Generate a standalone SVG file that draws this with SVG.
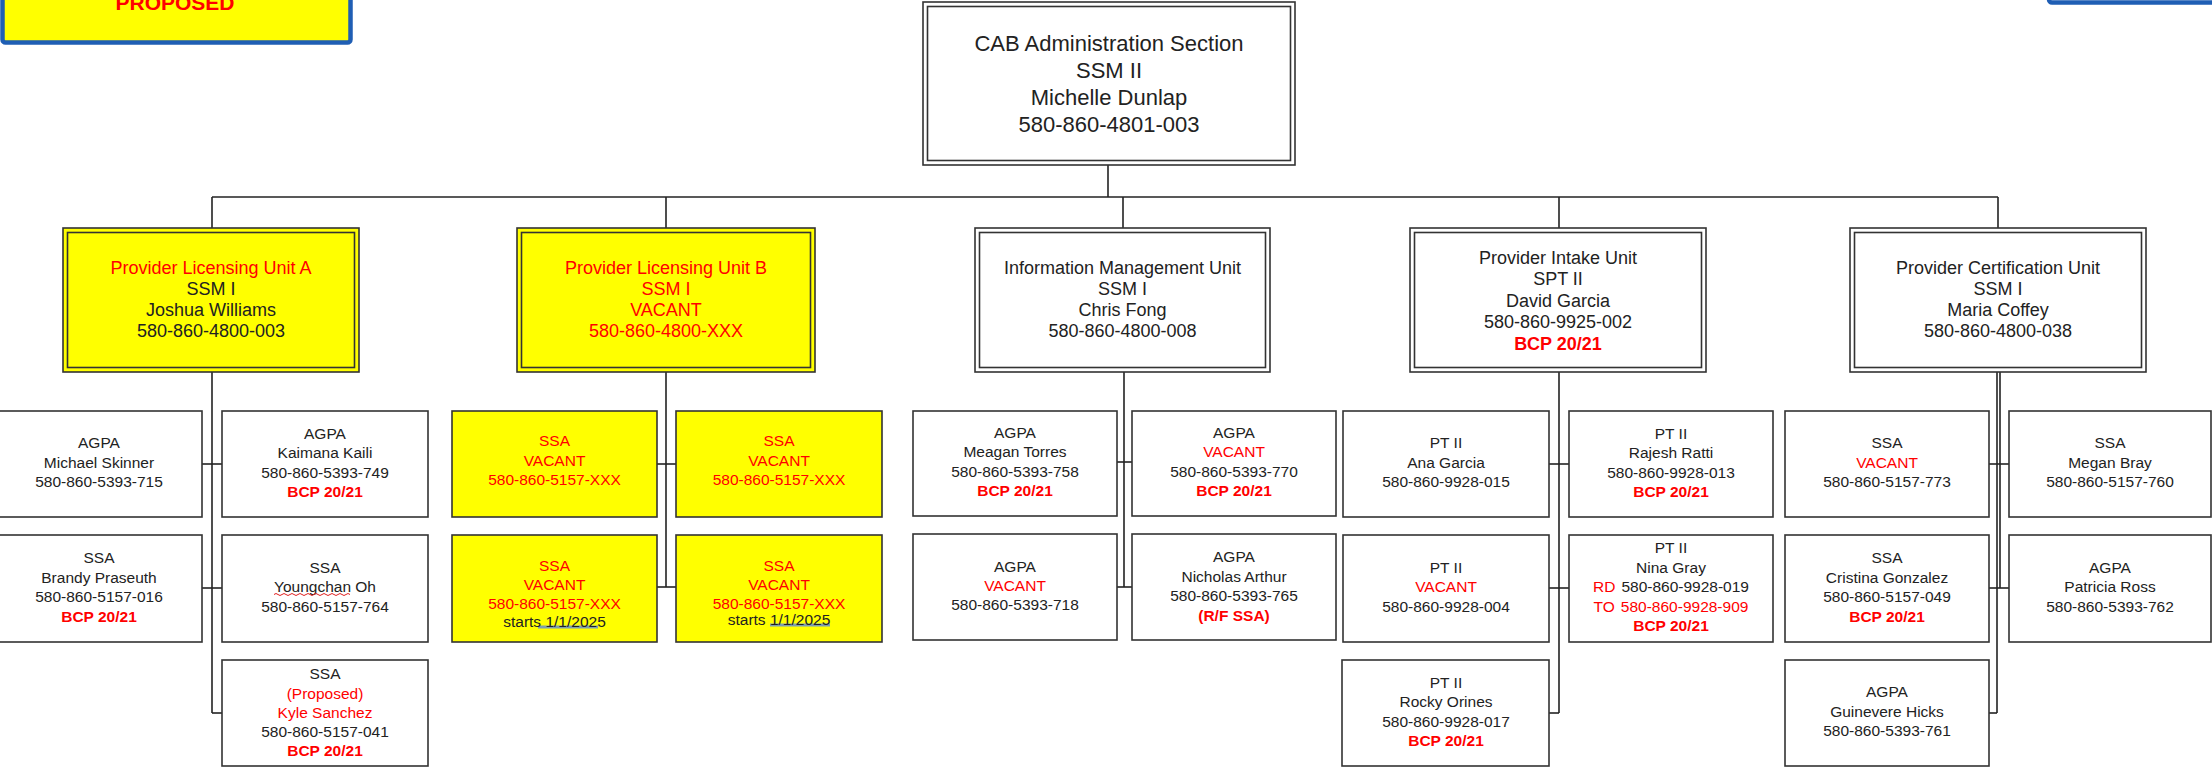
<svg xmlns="http://www.w3.org/2000/svg" width="2212" height="767" viewBox="0 0 2212 767">
<style>
.bg{fill:#ffffff}
.w{fill:#ffffff;stroke:#333;stroke-width:1.6}
.y{fill:#ffff00;stroke:#333;stroke-width:1.6}
.in{fill:none;stroke:#333;stroke-width:1.6}
.t{font-family:"Liberation Sans",Arial,sans-serif;font-size:15.5px;fill:#222;text-anchor:middle}
.u{font-size:18px}
.top{font-size:22px}
.r{fill:#ff0000}
.bd{font-weight:bold}
.c line{stroke:#222;stroke-width:1.6}
.leg{fill:#ffff00;stroke:#1f5eb4;stroke-width:4.5}
</style>
<rect class="bg" x="0" y="0" width="2212" height="767"/>

<g id="legend-left">
<rect class="leg" x="2.5" y="-40" width="348" height="82.5" rx="3"/>
<text class="t r bd" x="175" y="10" style="font-size:21px">PROPOSED</text>
</g>
<g id="legend-right">
<rect x="2049" y="-60" width="210" height="62.5" rx="3" fill="#ffffff" stroke="#1f5eb4" stroke-width="4.5"/>
</g>

<g class="c" id="connectors">
<line x1="1108" y1="165" x2="1108" y2="197"/>
<line x1="212" y1="197" x2="1998" y2="197"/>
<line x1="212" y1="197" x2="212" y2="228"/>
<line x1="666" y1="197" x2="666" y2="228"/>
<line x1="1123" y1="197" x2="1123" y2="228"/>
<line x1="1559" y1="197" x2="1559" y2="228"/>
<line x1="1998" y1="197" x2="1998" y2="228"/>
<!-- Unit A -->
<line x1="212" y1="372" x2="212" y2="713"/>
<line x1="202" y1="464" x2="222" y2="464"/>
<line x1="202" y1="588" x2="222" y2="588"/>
<line x1="212" y1="713" x2="222" y2="713"/>
<!-- Unit B -->
<line x1="666" y1="372" x2="666" y2="587"/>
<line x1="657" y1="464" x2="676" y2="464"/>
<line x1="657" y1="587" x2="676" y2="587"/>
<!-- Info -->
<line x1="1124" y1="372" x2="1124" y2="587"/>
<line x1="1117" y1="462" x2="1132" y2="462"/>
<line x1="1117" y1="587" x2="1132" y2="587"/>
<!-- Intake -->
<line x1="1559" y1="372" x2="1559" y2="713"/>
<line x1="1549" y1="464" x2="1569" y2="464"/>
<line x1="1549" y1="588" x2="1569" y2="588"/>
<line x1="1549" y1="713" x2="1559" y2="713"/>
<!-- Cert -->
<line x1="1997" y1="372" x2="1997" y2="713"/>
<line x1="2000" y1="372" x2="2000" y2="588"/>
<line x1="1989" y1="464" x2="2009" y2="464"/>
<line x1="1989" y1="588" x2="2009" y2="588"/>
<line x1="1989" y1="713" x2="1997" y2="713"/>
</g>

<g id="cab-admin">
<rect class="w" x="923" y="2" width="372" height="163"/>
<rect class="in" x="927.5" y="6.5" width="363" height="154"/>
<text class="t top" x="1109" y="51">CAB Administration Section</text>
<text class="t top" x="1109" y="78">SSM II</text>
<text class="t top" x="1109" y="105">Michelle Dunlap</text>
<text class="t top" x="1109" y="132">580-860-4801-003</text>
</g>

<g id="unit-a">
<rect class="y" x="63" y="228" width="296" height="144"/>
<rect class="in" x="67.5" y="232.5" width="287" height="135"/>
<text class="t u r" x="211" y="273.5">Provider Licensing Unit A</text>
<text class="t u" x="211" y="294.5">SSM I</text>
<text class="t u" x="211" y="315.5">Joshua Williams</text>
<text class="t u" x="211" y="336.5">580-860-4800-003</text>
</g>

<g id="unit-b">
<rect class="y" x="517" y="228" width="298" height="144"/>
<rect class="in" x="521.5" y="232.5" width="289" height="135"/>
<text class="t u r" x="666" y="273.5">Provider Licensing Unit B</text>
<text class="t u r" x="666" y="294.5">SSM I</text>
<text class="t u r" x="666" y="315.5">VACANT</text>
<text class="t u r" x="666" y="336.5">580-860-4800-XXX</text>
</g>

<g id="unit-info">
<rect class="w" x="975" y="228" width="295" height="144"/>
<rect class="in" x="979.5" y="232.5" width="286" height="135"/>
<text class="t u" x="1122.5" y="273.5">Information Management Unit</text>
<text class="t u" x="1122.5" y="294.5">SSM I</text>
<text class="t u" x="1122.5" y="315.5">Chris Fong</text>
<text class="t u" x="1122.5" y="336.5">580-860-4800-008</text>
</g>

<g id="unit-intake">
<rect class="w" x="1410" y="228" width="296" height="144"/>
<rect class="in" x="1414.5" y="232.5" width="287" height="135"/>
<text class="t u" x="1558" y="263.5">Provider Intake Unit</text>
<text class="t u" x="1558" y="285">SPT II</text>
<text class="t u" x="1558" y="306.5">David Garcia</text>
<text class="t u" x="1558" y="328">580-860-9925-002</text>
<text class="t u r bd" x="1558" y="349.5">BCP 20/21</text>
</g>

<g id="unit-cert">
<rect class="w" x="1850" y="228" width="296" height="144"/>
<rect class="in" x="1854.5" y="232.5" width="287" height="135"/>
<text class="t u" x="1998" y="273.5">Provider Certification Unit</text>
<text class="t u" x="1998" y="294.5">SSM I</text>
<text class="t u" x="1998" y="315.5">Maria Coffey</text>
<text class="t u" x="1998" y="336.5">580-860-4800-038</text>
</g>

<!-- Unit A children -->
<g id="a-skinner">
<rect class="w" x="-4" y="411" width="206" height="106"/>
<text class="t" x="99" y="448">AGPA</text>
<text class="t" x="99" y="467.5">Michael Skinner</text>
<text class="t" x="99" y="487">580-860-5393-715</text>
</g>
<g id="a-kaili">
<rect class="w" x="222" y="411" width="206" height="106"/>
<text class="t" x="325" y="438.5">AGPA</text>
<text class="t" x="325" y="458">Kaimana Kaili</text>
<text class="t" x="325" y="477.5">580-860-5393-749</text>
<text class="t r bd" x="325" y="497">BCP 20/21</text>
</g>
<g id="a-praseuth">
<rect class="w" x="-4" y="535" width="206" height="107"/>
<text class="t" x="99" y="563">SSA</text>
<text class="t" x="99" y="582.5">Brandy Praseuth</text>
<text class="t" x="99" y="602">580-860-5157-016</text>
<text class="t r bd" x="99" y="621.5">BCP 20/21</text>
</g>
<g id="a-oh">
<rect class="w" x="222" y="535" width="206" height="107"/>
<text class="t" x="325" y="572.5">SSA</text>
<text class="t" x="325" y="592">Youngchan Oh</text>
<path d="M274,594.5 q2,-2 4,0 t4,0 t4,0 t4,0 t4,0 t4,0 t4,0 t4,0 t4,0 t4,0 t4,0 t4,0 t4,0 t4,0 t4,0 t4,0 t4,0 t4,0 t4,0" fill="none" stroke="#e02020" stroke-width="1"/>
<text class="t" x="325" y="611.5">580-860-5157-764</text>
</g>
<g id="a-sanchez">
<rect class="w" x="222" y="660" width="206" height="106"/>
<text class="t" x="325" y="679">SSA</text>
<text class="t r" x="325" y="698.5">(Proposed)</text>
<text class="t r" x="325" y="718">Kyle Sanchez</text>
<text class="t" x="325" y="737">580-860-5157-041</text>
<text class="t r bd" x="325" y="755.5">BCP 20/21</text>
</g>

<!-- Unit B children -->
<g id="b-ssa1">
<rect class="y" x="452" y="411" width="205" height="106"/>
<text class="t r" x="554.5" y="446">SSA</text>
<text class="t r" x="554.5" y="466">VACANT</text>
<text class="t r" x="554.5" y="485">580-860-5157-XXX</text>
</g>
<g id="b-ssa2">
<rect class="y" x="676" y="411" width="206" height="106"/>
<text class="t r" x="779" y="446">SSA</text>
<text class="t r" x="779" y="466">VACANT</text>
<text class="t r" x="779" y="485">580-860-5157-XXX</text>
</g>
<g id="b-ssa3">
<rect class="y" x="452" y="535" width="205" height="107"/>
<line x1="538" y1="627" x2="598" y2="627" stroke="#7f9fb0" stroke-width="3"/>
<text class="t r" x="554.5" y="570.5">SSA</text>
<text class="t r" x="554.5" y="589.5">VACANT</text>
<text class="t r" x="554.5" y="608.5">580-860-5157-XXX</text>
<text class="t" x="554.5" y="627">starts 1/1/2025</text>
</g>
<g id="b-ssa4">
<rect class="y" x="676" y="535" width="206" height="107"/>
<line x1="770" y1="625" x2="830" y2="625" stroke="#7f9fb0" stroke-width="3"/>
<text class="t r" x="779" y="570.5">SSA</text>
<text class="t r" x="779" y="589.5">VACANT</text>
<text class="t r" x="779" y="608.5">580-860-5157-XXX</text>
<text class="t" x="779" y="625">starts 1/1/2025</text>
</g>

<!-- Info children -->
<g id="i-torres">
<rect class="w" x="913" y="411" width="204" height="105"/>
<text class="t" x="1015" y="437.5">AGPA</text>
<text class="t" x="1015" y="457">Meagan Torres</text>
<text class="t" x="1015" y="476.5">580-860-5393-758</text>
<text class="t r bd" x="1015" y="496">BCP 20/21</text>
</g>
<g id="i-vacant1">
<rect class="w" x="1132" y="411" width="204" height="105"/>
<text class="t" x="1234" y="437.5">AGPA</text>
<text class="t r" x="1234" y="457">VACANT</text>
<text class="t" x="1234" y="476.5">580-860-5393-770</text>
<text class="t r bd" x="1234" y="496">BCP 20/21</text>
</g>
<g id="i-vacant2">
<rect class="w" x="913" y="534" width="204" height="106"/>
<text class="t" x="1015" y="572">AGPA</text>
<text class="t r" x="1015" y="591">VACANT</text>
<text class="t" x="1015" y="610">580-860-5393-718</text>
</g>
<g id="i-arthur">
<rect class="w" x="1132" y="534" width="204" height="106"/>
<text class="t" x="1234" y="562">AGPA</text>
<text class="t" x="1234" y="582">Nicholas Arthur</text>
<text class="t" x="1234" y="601">580-860-5393-765</text>
<text class="t r bd" x="1234" y="620.5">(R/F SSA)</text>
</g>

<!-- Intake children -->
<g id="p-garcia">
<rect class="w" x="1343" y="411" width="206" height="106"/>
<text class="t" x="1446" y="448">PT II</text>
<text class="t" x="1446" y="467.5">Ana Garcia</text>
<text class="t" x="1446" y="487">580-860-9928-015</text>
</g>
<g id="p-ratti">
<rect class="w" x="1569" y="411" width="204" height="106"/>
<text class="t" x="1671" y="438.5">PT II</text>
<text class="t" x="1671" y="458">Rajesh Ratti</text>
<text class="t" x="1671" y="477.5">580-860-9928-013</text>
<text class="t r bd" x="1671" y="497">BCP 20/21</text>
</g>
<g id="p-vacant">
<rect class="w" x="1343" y="535" width="206" height="107"/>
<text class="t" x="1446" y="572.5">PT II</text>
<text class="t r" x="1446" y="592">VACANT</text>
<text class="t" x="1446" y="611.5">580-860-9928-004</text>
</g>
<g id="p-gray">
<rect class="w" x="1569" y="535" width="204" height="107"/>
<text class="t" x="1671" y="553">PT II</text>
<text class="t" x="1671" y="572.5">Nina Gray</text>
<text class="t" x="1671" y="592"><tspan class="r">RD</tspan><tspan dx="6">580-860-9928-019</tspan></text>
<text class="t r" x="1671" y="611.5">TO<tspan dx="6">580-860-9928-909</tspan></text>
<text class="t r bd" x="1671" y="631">BCP 20/21</text>
</g>
<g id="p-orines">
<rect class="w" x="1342" y="660" width="207" height="106"/>
<text class="t" x="1446" y="687.5">PT II</text>
<text class="t" x="1446" y="707">Rocky Orines</text>
<text class="t" x="1446" y="726.5">580-860-9928-017</text>
<text class="t r bd" x="1446" y="746">BCP 20/21</text>
</g>

<!-- Cert children -->
<g id="c-vacant">
<rect class="w" x="1785" y="411" width="204" height="106"/>
<text class="t" x="1887" y="448">SSA</text>
<text class="t r" x="1887" y="467.5">VACANT</text>
<text class="t" x="1887" y="487">580-860-5157-773</text>
</g>
<g id="c-bray">
<rect class="w" x="2009" y="411" width="202" height="106"/>
<text class="t" x="2110" y="448">SSA</text>
<text class="t" x="2110" y="467.5">Megan Bray</text>
<text class="t" x="2110" y="487">580-860-5157-760</text>
</g>
<g id="c-gonzalez">
<rect class="w" x="1785" y="535" width="204" height="107"/>
<text class="t" x="1887" y="563">SSA</text>
<text class="t" x="1887" y="582.5">Cristina Gonzalez</text>
<text class="t" x="1887" y="602">580-860-5157-049</text>
<text class="t r bd" x="1887" y="621.5">BCP 20/21</text>
</g>
<g id="c-ross">
<rect class="w" x="2009" y="535" width="202" height="107"/>
<text class="t" x="2110" y="572.5">AGPA</text>
<text class="t" x="2110" y="592">Patricia Ross</text>
<text class="t" x="2110" y="611.5">580-860-5393-762</text>
</g>
<g id="c-hicks">
<rect class="w" x="1785" y="660" width="204" height="106"/>
<text class="t" x="1887" y="697">AGPA</text>
<text class="t" x="1887" y="716.5">Guinevere Hicks</text>
<text class="t" x="1887" y="736">580-860-5393-761</text>
</g>
</svg>
